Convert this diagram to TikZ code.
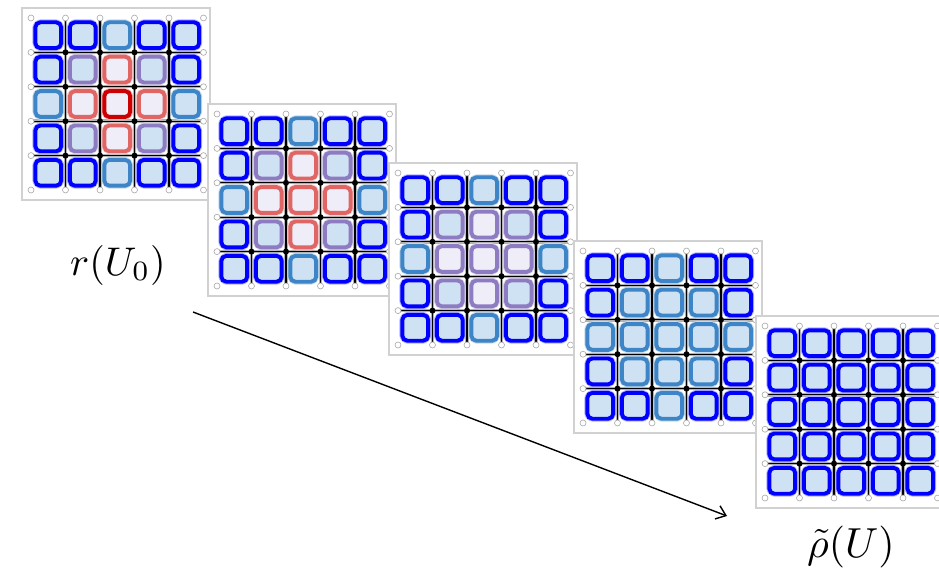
\documentclass[tikz,border=0pt]{standalone}
\usetikzlibrary{arrows.meta}
\definecolor{cB}{RGB}{0,0,255}
\definecolor{cS}{RGB}{61,133,198}
\definecolor{cP}{RGB}{142,124,195}
\definecolor{cR}{RGB}{224,102,102}
\definecolor{cD}{RGB}{204,0,0}
\definecolor{fBlue}{RGB}{207,226,243}
\definecolor{fLav}{RGB}{239,237,248}
\tikzset{
  framebox/.style={fill=white,draw=black!18,line width=1.3pt},
  gridline/.style={line width=1.3pt,black},
  gridhalo/.style={line width=3.4pt,black!30},
  opendot/.style={circle,draw=black!35,fill=white,inner sep=0pt,minimum size=6pt,line width=0.6pt},
  fulldot/.style={circle,fill=black,inner sep=0pt,minimum size=6pt},
  sqbase/.style={rounded corners=5pt,line width=3.9pt},
  sqB/.style={sqbase,draw=cB,fill=fBlue},
  sqS/.style={sqbase,draw=cS,fill=fBlue},
  sqP/.style={sqbase,draw=cP,fill=fBlue},
  sqQ/.style={sqbase,draw=cP,fill=fLav},
  sqR/.style={sqbase,draw=cR,fill=fLav},
  sqD/.style={sqbase,draw=cD,fill=fLav},
  glowB/.style={rounded corners=6pt,line width=6pt,draw=cB!30},
  glowS/.style={rounded corners=6pt,line width=6pt,draw=cS!30},
  glowP/.style={rounded corners=6pt,line width=6pt,draw=cP!30},
  glowQ/.style={rounded corners=6pt,line width=6pt,draw=cP!30},
  glowR/.style={rounded corners=6pt,line width=6pt,draw=cR!30},
  glowD/.style={rounded corners=6pt,line width=6pt,draw=cD!30},
  label/.style={inner sep=0pt},
  flow/.style={line width=1.4pt,-{Straight Barb[length=9pt,width=14pt,line width=1.4pt]}}
}
\newcommand\drawpanel[3]{%
  \begin{scope}[shift={(#1,#2)}]
    \draw[framebox] (-9,-10) rectangle (179,182);
    \foreach \i in {1,...,4}{
      \draw[gridhalo] ({\i*34.5},0) -- ({\i*34.5},172);
      \draw[gridhalo] (0,{\i*34.4}) -- (172.5,{\i*34.4});
    }
    \foreach \i in {1,...,4}{
      \draw[gridline] ({\i*34.5},0) -- ({\i*34.5},172);
      \draw[gridline] (0,{\i*34.4}) -- (172.5,{\i*34.4});
    }
    \foreach \c [count=\k from 0] in {#3}{
      \pgfmathtruncatemacro\row{floor(\k/5)}
      \pgfmathtruncatemacro\col{\k-5*\row}
      \pgfmathsetmacro\sx{(\col+0.5)*34.5-12.9}
      \pgfmathsetmacro\sy{(\row+0.5)*34.4-12.9}
      \edef\tmp{\noexpand\draw[glow\c] (\sx,\sy) rectangle ++(25.8,25.8);
                \noexpand\draw[sq\c] (\sx,\sy) rectangle ++(25.8,25.8);}
      \tmp
    }
    \foreach \i in {1,...,4}{
      \foreach \j in {1,...,4}{
        \node[fulldot] at ({\i*34.5},{\j*34.4}) {};
      }
    }
    \foreach \i in {0,...,5}{
      \node[opendot] at ({\i*34.5},0) {};
      \node[opendot] at ({\i*34.5},172) {};
    }
    \foreach \j in {1,...,4}{
      \node[opendot] at (0,{\j*34.4}) {};
      \node[opendot] at (172.5,{\j*34.4}) {};
    }
  \end{scope}}
\begin{document}
\begin{tikzpicture}[x=1pt,y=-1pt]
\useasboundingbox (0,0) rectangle (939,580);
\fill[white] (0,0) rectangle (939,580);
\drawpanel{31}{18}{B,B,S,B,B, B,P,R,P,B, S,R,D,R,S, B,P,R,P,B, B,B,S,B,B}
\drawpanel{217}{114}{B,B,S,B,B, B,P,R,P,B, S,R,R,R,S, B,P,R,P,B, B,B,S,B,B}
\drawpanel{398}{173}{B,B,S,B,B, B,P,Q,P,B, S,Q,Q,Q,S, B,P,Q,P,B, B,B,S,B,B}
\drawpanel{583}{251}{B,B,S,B,B, B,S,S,S,B, S,S,S,S,S, B,S,S,S,B, B,B,S,B,B}
\drawpanel{765}{326}{B,B,B,B,B, B,B,B,B,B, B,B,B,B,B, B,B,B,B,B, B,B,B,B,B}
\node[label] (rU) at (118,265) {\scalebox{4.0}{$r(U_0)$}};
\node[label] (rhoU) at (851,547) {\scalebox{4.2}{$\tilde{\rho}(U)$}};
\coordinate (a0) at (193,312);
\coordinate (a1) at (727,516);
\draw[flow] (a0) -- (a1);
\end{tikzpicture}
\end{document}
